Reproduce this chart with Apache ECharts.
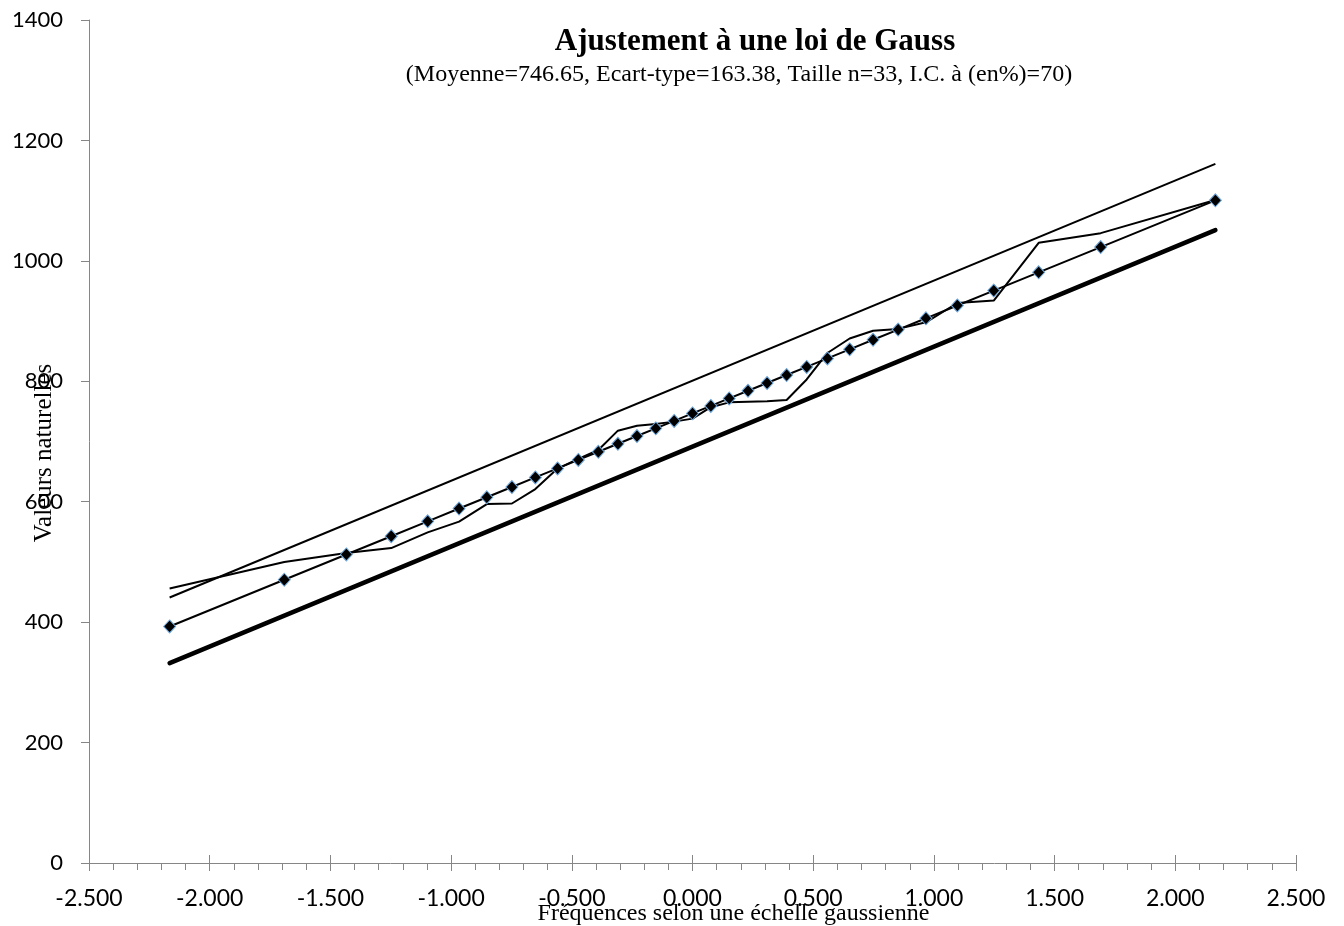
<!DOCTYPE html>
<html>
<head>
<meta charset="utf-8">
<title>Ajustement à une loi de Gauss</title>
<script src="https://cdn.jsdelivr.net/npm/echarts@6/dist/echarts.min.js"></script>
<style>
  html, body { margin: 0; padding: 0; background: #fff; }
  #mychart { width: 1344px; height: 926px; }
</style>
</head>
<body>
<div id="mychart"></div>
<script>
// fréquences en échelle gaussienne (abscisses)
const zFreq = [-2.166, -1.691, -1.434, -1.248, -1.097, -0.967, -0.852, -0.748, -0.651, -0.559, -0.473,
  -0.390, -0.309, -0.230, -0.152, -0.076, 0.000, 0.076, 0.152, 0.230, 0.309, 0.390,
  0.473, 0.559, 0.651, 0.748, 0.852, 0.967, 1.097, 1.248, 1.434, 1.691, 2.166]
// droite de Gauss (losanges)
const valTheo = [392.8, 470.4, 512.4, 542.7, 567.4, 588.7, 607.4, 624.4, 640.3, 655.3, 669.4,
  682.9, 696.2, 709.1, 721.8, 734.2, 746.7, 759.1, 771.5, 784.2, 797.1, 810.4,
  823.9, 838.0, 853.0, 868.9, 885.9, 904.6, 925.9, 950.6, 980.9, 1022.9, 1100.5]
// valeurs naturelles observées
const valObs = [456, 500, 515, 523, 549, 567, 596, 597, 621, 655, 671,
  686, 718, 726, 729, 733, 738, 757, 765, 766, 767, 769,
  803, 847, 871, 884, 887, 898, 930, 934, 1030, 1046, 1101]
// bornes de l'intervalle de confiance
const borneZ = [-2.166, 2.166]
const borneSup = [441, 1161]
const borneInf = [332, 1051]

const xTicks = { min: -2.5, max: 2.5, step: 0.5 }
const yTicks = { min: 0, max: 1400, step: 200 }

const pairs = (xs, ys) => xs.map((x, i) => [x, ys[i]])

const axisGrey = '#868686'

const option = {
  animation: false,
  backgroundColor: '#fff',
  title: [
    {
      text: 'Ajustement à une loi de Gauss',
      left: 750,
      top: 21,
      textAlign: 'center',
      textStyle: { fontFamily: 'Liberation Serif', fontSize: 31, fontWeight: 'bold', color: '#000' }
    },
    {
      text: '(Moyenne=746.65, Ecart-type=163.38, Taille n=33, I.C. à (en%)=70)',
      left: 734,
      top: 58,
      textAlign: 'center',
      textStyle: { fontFamily: 'Liberation Serif', fontSize: 24, fontWeight: 'normal', color: '#000' }
    }
  ],
  grid: { left: 89, right: 48, top: 20, bottom: 63, containLabel: false, outerBoundsMode: 'none' },
  xAxis: [
    {
      type: 'value',
      min: xTicks.min,
      max: xTicks.max,
      interval: xTicks.step,
      name: 'Fréquences selon une échelle gaussienne',
      nameLocation: 'middle',
      nameGap: 39,
      nameMoveOverlap: false,
      nameTextStyle: { fontFamily: 'Liberation Serif', fontSize: 24, color: '#000', padding: [0, 0, 0, 82] },
      axisLine: { show: true, onZero: false, lineStyle: { color: axisGrey, width: 1 } },
      axisTick: { show: true, length: 8, lineStyle: { color: axisGrey } },
      minorTick: { show: true, splitNumber: 5, length: 7, lineStyle: { color: axisGrey } },
      splitLine: { show: false },
      axisLabel: {
        margin: 24,
        fontFamily: 'Lato',
        fontSize: 23,
        color: '#000',
        formatter: v => v.toFixed(3)
      }
    },
    {
      // graduations principales vers l'intérieur (traits qui croisent l'axe)
      type: 'value',
      position: 'bottom',
      min: xTicks.min,
      max: xTicks.max,
      interval: xTicks.step,
      axisLine: { show: false, onZero: false },
      axisTick: { show: true, inside: true, length: 8, lineStyle: { color: axisGrey } },
      axisLabel: { show: false },
      splitLine: { show: false }
    }
  ],
  yAxis: {
    type: 'value',
    min: yTicks.min,
    max: yTicks.max,
    interval: yTicks.step,
    name: 'Valeurs naturelles',
    nameLocation: 'middle',
    nameGap: 32,
    nameRotate: 90,
    nameMoveOverlap: false,
    nameTextStyle: { fontFamily: 'Liberation Serif', fontSize: 25, color: '#000', padding: [0, 23, 0, 0] },
    axisLine: { show: true, onZero: false, lineStyle: { color: axisGrey, width: 1 } },
    axisTick: { show: true, length: 8, lineStyle: { color: axisGrey } },
    splitLine: { show: false },
    axisLabel: { margin: 26, fontFamily: 'Lato', fontSize: 22, color: '#000', formatter: v => String(v) }
  },
  series: [
    {
      name: 'Borne inférieure',
      type: 'line',
      symbol: 'none',
      lineStyle: { color: '#000', width: 4.5, cap: 'round' },
      data: pairs(borneZ, borneInf)
    },
    {
      name: 'Borne supérieure',
      type: 'line',
      symbol: 'none',
      lineStyle: { color: '#000', width: 2 },
      data: pairs(borneZ, borneSup)
    },
    {
      name: 'Valeurs observées',
      type: 'line',
      symbol: 'none',
      lineStyle: { color: '#000', width: 2 },
      data: pairs(zFreq, valObs)
    },
    {
      name: 'Loi de Gauss',
      type: 'line',
      symbol: 'diamond',
      symbolSize: [12, 13],
      lineStyle: { color: '#000', width: 2 },
      itemStyle: { color: '#000', borderColor: '#6fa8dc', borderWidth: 1 },
      data: pairs(zFreq, valTheo),
      z: 5
    }
  ]
}

const myChart = echarts.init(document.getElementById('mychart'))
myChart.setOption(option)
</script>
</body>
</html>
